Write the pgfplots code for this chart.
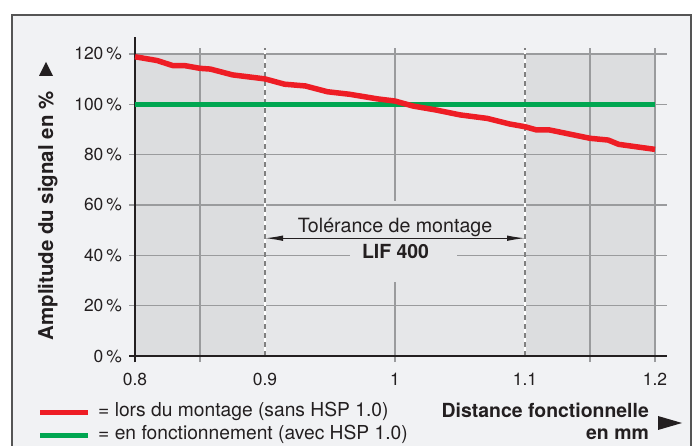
\documentclass[border=0pt]{standalone}
\usepackage{fontspec}
\setmainfont{TeX Gyre Heros}
\usepackage{pgfplots}
\pgfplotsset{compat=1.18}
\usetikzlibrary{arrows.meta}

\definecolor{framebg}{HTML}{F1F2F4}
\definecolor{framegray}{HTML}{555555}
\definecolor{shadedark}{HTML}{DCDDDF}
\definecolor{shadelight}{HTML}{E6E7E9}
\definecolor{gridgray}{HTML}{9A9B9D}
\definecolor{txt}{HTML}{231F20}
\definecolor{curvered}{HTML}{EE1D25}
\definecolor{curvegreen}{HTML}{00A651}
\tikzset{gridln/.style={gridgray, line width=1.3bp}}

\begin{document}
\begin{tikzpicture}[x=1bp,y=1bp]
\path[use as bounding box] (0,0) rectangle (696,446);
\fill[framebg, draw=framegray, line width=1.6bp] (12,-10) rectangle (691,431);

\begin{axis}[
    at={(135bp,90bp)}, anchor=south west,
    scale only axis, width=532bp, height=302bp,
    xmin=0.8, xmax=1.20923, ymin=0, ymax=120,
    axis line style={draw=none}, tick style={draw=none},
    xtick={0.8,0.9,1,1.1,1.2},
    xticklabels={0.8,0.9,1,1.1,1.2},
    ytick={0,20,40,60,80,100,120},
    yticklabels={0\,\%,20\,\%,40\,\%,60\,\%,80\,\%,100\,\%,120\,\%},
    xticklabel style={font=\fontsize{17.5}{20}\selectfont, text=txt, inner sep=0pt, anchor=north, yshift=-17bp},
    yticklabel style={font=\fontsize{17.5}{20}\selectfont, text=txt, inner sep=0pt, anchor=east, xshift=-13bp},
    clip=false,
]
% background bands
\fill[shadedark] (axis cs:0.8,0) rectangle (axis cs:0.9,120);
\fill[shadelight] (axis cs:0.9,0) rectangle (axis cs:1.1,120);
\fill[shadedark] (axis cs:1.1,0) rectangle (axis cs:1.2,120);

% horizontal grid
\draw[gridln] (axis cs:0.7954,20) -- (axis cs:1.20923,20);
\draw[gridln] (axis cs:0.7954,40) -- (axis cs:0.9654,40);
\draw[gridln] (axis cs:1.0477,40) -- (axis cs:1.20923,40);
\draw[gridln] (axis cs:0.7954,60) -- (axis cs:1.20923,60);
\draw[gridln] (axis cs:0.7954,80) -- (axis cs:1.20923,80);
\draw[gridln] (axis cs:0.7954,100) -- (axis cs:1.20923,100);
\draw[gridln] (axis cs:0.7954,120) -- (axis cs:1.20923,120);

% vertical grid
\draw[gridln] (axis cs:0.85,-2.4) -- (axis cs:0.85,122.3);
\draw[gridln] (axis cs:1.15,-2.4) -- (axis cs:1.15,122.3);
\draw[gridln] (axis cs:1.2,-2.4) -- (axis cs:1.2,122.3);
\draw[gridln] (axis cs:1,-2.4) -- (axis cs:1,29.4);
\draw[gridln] (axis cs:1,61.6) -- (axis cs:1,122.3);
\draw[white, line width=1.3bp] (axis cs:0.9,0) -- (axis cs:0.9,122.3);
\draw[gray, line width=1.3bp, dash pattern=on 5bp off 4bp] (axis cs:0.9,0) -- (axis cs:0.9,122.3);
\draw[white, line width=1.3bp] (axis cs:1.1,0) -- (axis cs:1.1,122.3);
\draw[gray, line width=1.3bp, dash pattern=on 5bp off 4bp] (axis cs:1.1,0) -- (axis cs:1.1,122.3);

% axes
\draw[txt, line width=2.4bp] (axis cs:0.7954,0) -- (axis cs:1.20923,0);
\draw[txt, line width=2.4bp] (axis cs:0.8,-2.5) -- (axis cs:0.8,126.8);

% data
\addplot[curvegreen, line width=5bp] coordinates {(0.8,100) (1.2,100)};
\addplot[curvered, line width=5.5bp, line join=round] coordinates {
  (0.8,118.9) (0.817,117.4) (0.829,115.4) (0.838,115.4) (0.85,114.3)
  (0.858,114.0) (0.875,111.7) (0.9,110.1) (0.915,108.0) (0.931,107.3)
  (0.948,105.0) (0.965,104.0) (0.986,102.2) (1.0,101.3) (1.014,99.3)
  (1.032,97.7) (1.05,95.8) (1.071,94.4) (1.088,92.2) (1.1,91.1)
  (1.109,89.8) (1.119,89.8) (1.135,88.1) (1.15,86.5) (1.164,85.8)
  (1.172,84.1) (1.2,82.1)
};

% tolerance annotation
\draw[txt, line width=1.1bp, {Latex[length=18bp,width=5.5bp]}-{Latex[length=18bp,width=5.5bp]}]
  (axis cs:0.9,46.8) -- (axis cs:1.1,46.8);
\end{axis}

\node[anchor=base, text=txt, font=\fontsize{19.7}{22}\selectfont, inner sep=0pt]
  at (395,213.3) {Tolérance de montage};
\node[anchor=base, text=txt, font=\fontsize{19.5}{22}\selectfont\bfseries, inner sep=0pt]
  at (395.5,187.7) {LIF 400};

% axis titles
\node[anchor=base, rotate=90, text=txt, font=\fontsize{20.5}{22}\selectfont\bfseries, inner sep=0pt]
  at (53,230) {Amplitude du signal en \%};
\fill[txt] (39,370) -- (53,370) -- (46,384) -- cycle;
\node[anchor=base east, text=txt, font=\fontsize{19.5}{22}\selectfont\bfseries, inner sep=0pt]
  at (649,28.3) {Distance fonctionnelle};
\node[anchor=base east, text=txt, font=\fontsize{19.5}{22}\selectfont\bfseries, inner sep=0pt]
  at (649,6) {en mm};
\fill[txt] (658,30) -- (658,16) -- (682,23) -- cycle;

% legend
\draw[curvered, line width=5bp] (40,33) -- (88,33);
\draw[curvegreen, line width=5bp] (40,10.5) -- (88,10.5);
\node[anchor=base west, text=txt, font=\fontsize{19.3}{22}\selectfont, inner sep=0pt]
  at (98,29.3) {= lors du montage (sans HSP 1.0)};
\node[anchor=base west, text=txt, font=\fontsize{19.3}{22}\selectfont, inner sep=0pt]
  at (98,6.5) {= en fonctionnement (avec HSP 1.0)};
\end{tikzpicture}
\end{document}
